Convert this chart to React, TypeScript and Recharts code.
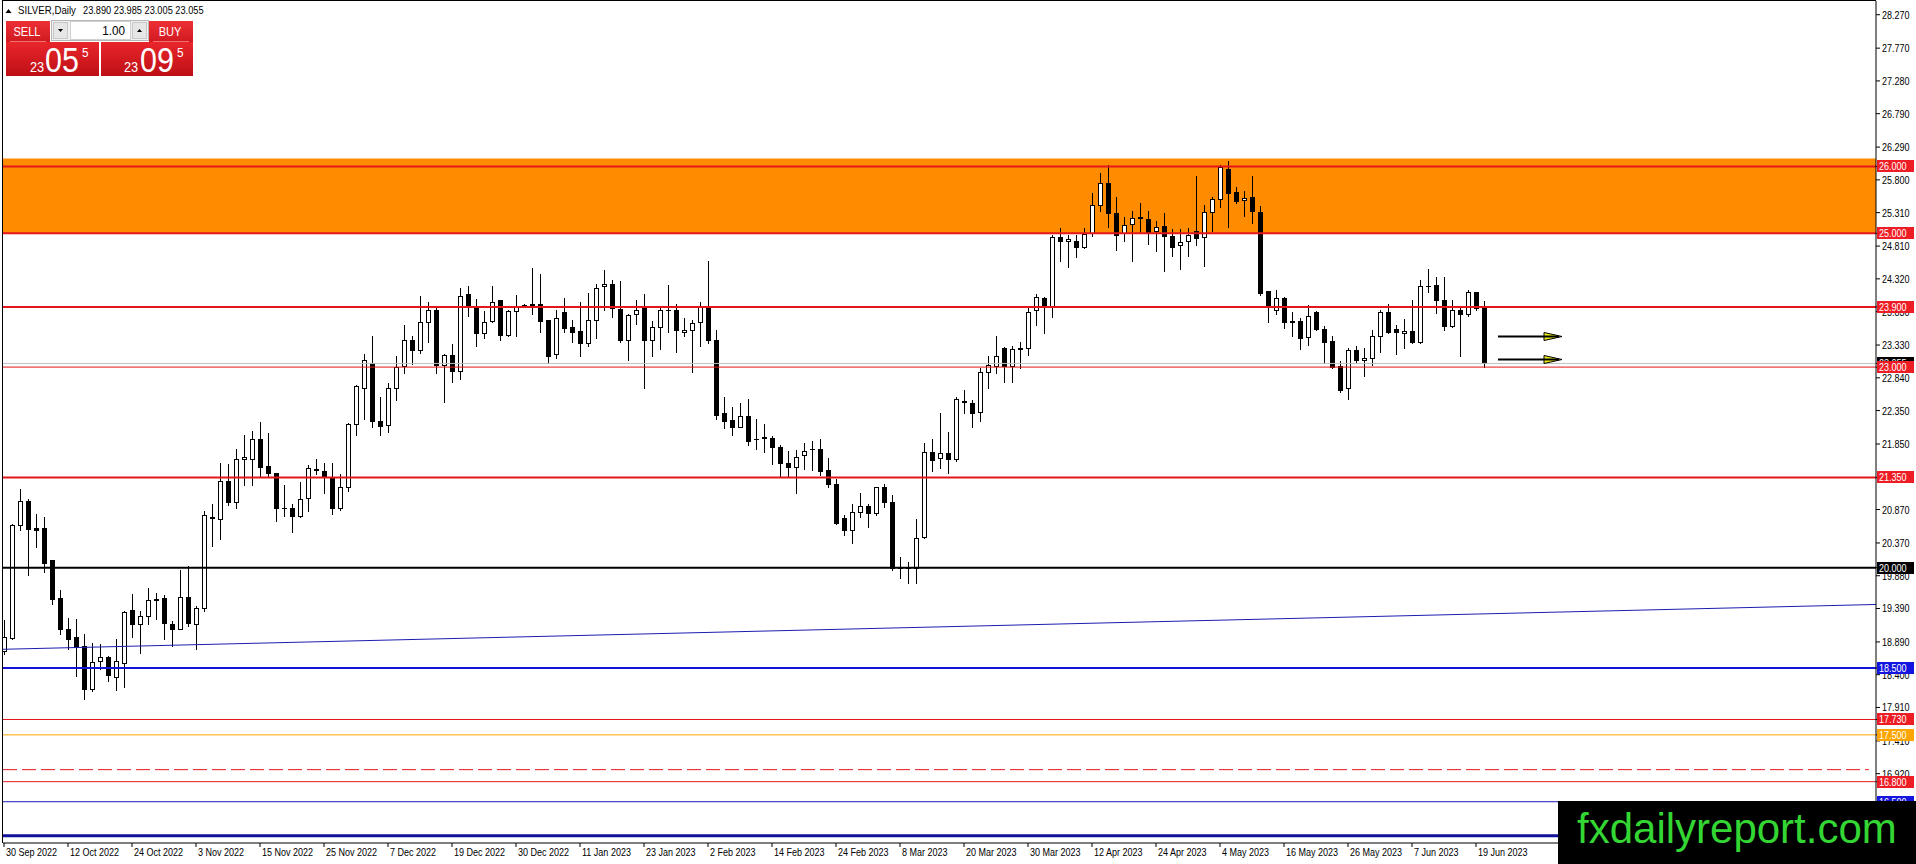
import React from 'react';
import { ComposedChart, Bar, XAxis, YAxis, ReferenceLine, ReferenceArea } from 'recharts';

// ---------------- data ----------------
const dateLabels = ['30 Sep 2022', '12 Oct 2022', '24 Oct 2022', '3 Nov 2022', '15 Nov 2022', '25 Nov 2022', '7 Dec 2022', '19 Dec 2022', '30 Dec 2022', '11 Jan 2023', '23 Jan 2023', '2 Feb 2023', '14 Feb 2023', '24 Feb 2023', '8 Mar 2023', '20 Mar 2023', '30 Mar 2023', '12 Apr 2023', '24 Apr 2023', '4 May 2023', '16 May 2023', '26 May 2023', '7 Jun 2023', '19 Jun 2023'];
const dateTickBars = [0, 8, 16, 24, 32, 40, 48, 56, 64, 72, 80, 88, 96, 104, 112, 120, 128, 136, 144, 152, 160, 168, 176, 184];

const opens = [18.76,18.95,20.64,21.00,20.59,20.59,20.11,19.55,19.08,18.97,
18.83,18.18,18.60,18.67,18.37,18.58,19.37,19.16,19.28,19.53,
19.54,19.16,19.08,19.56,19.16,19.40,20.74,20.73,21.29,20.99,
21.62,21.63,21.92,21.52,21.41,20.90,20.90,20.77,21.04,21.47,
21.45,21.34,20.89,21.20,22.15,22.68,23.06,22.20,22.14,22.68,
23.01,23.41,23.26,23.67,23.86,23.03,23.18,22.94,24.09,23.89,
23.51,23.69,24.00,23.48,23.84,23.92,23.94,23.94,23.70,23.19,
23.82,23.60,23.54,23.36,23.71,24.21,24.24,23.87,23.41,23.79,
23.89,23.41,23.60,23.86,23.86,23.52,23.55,23.67,23.89,23.41,
22.31,22.21,22.10,22.27,21.92,21.95,21.94,21.80,21.56,21.51,
21.68,21.77,21.77,21.46,21.25,20.75,20.56,20.84,20.93,20.82,
21.21,20.98,20.01,20.00,19.99,20.46,21.73,21.64,21.71,21.62,
22.49,22.47,22.33,22.92,23.02,23.28,23.01,23.27,23.28,23.85,
24.04,23.92,24.94,24.88,24.89,24.80,25.00,25.43,25.76,25.30,
25.00,25.14,25.24,25.21,25.04,25.11,24.96,24.83,24.88,25.03,
24.94,25.32,25.51,25.97,25.62,25.50,25.54,25.32,24.14,23.86,
24.04,23.69,23.69,23.45,23.82,23.57,23.39,23.01,22.68,23.25,
23.10,23.13,23.47,23.82,23.57,23.51,23.54,23.37,24.22,24.23,
24.01,23.61,23.86,23.80,24.13,23.89];

const highs = [19.22,20.65,21.17,21.02,20.81,20.76,20.12,19.66,19.25,19.23,
19.01,18.87,18.86,18.68,18.93,19.36,19.60,19.36,19.70,19.62,
19.59,19.20,19.96,20.02,19.43,20.85,20.95,21.56,21.55,21.77,
21.99,22.04,22.18,22.01,21.42,21.23,20.96,21.28,21.54,21.62,
21.56,21.56,21.40,22.16,22.73,23.20,23.47,22.56,22.76,23.16,
23.63,23.47,24.06,23.97,23.88,23.19,23.34,24.18,24.22,24.02,
23.84,24.21,24.01,23.85,24.08,23.95,24.48,24.39,23.71,23.85,
24.03,23.70,23.97,24.11,24.25,24.45,24.31,24.29,23.80,24.01,
24.09,23.69,23.88,24.23,23.95,23.74,23.71,23.97,24.58,23.56,
22.55,22.40,22.47,22.52,22.23,22.15,21.97,21.84,21.74,21.76,
21.86,21.90,21.92,21.64,21.32,20.79,20.95,21.11,20.96,21.21,
21.25,21.09,20.16,20.09,20.73,21.86,21.92,22.31,22.03,22.56,
22.66,22.51,22.98,23.16,23.46,23.30,23.31,23.37,23.88,24.10,
24.05,24.97,25.08,24.97,24.98,25.08,25.61,25.91,26.02,25.54,
25.25,25.33,25.45,25.33,25.18,25.30,25.07,25.06,25.08,25.86,
25.42,25.55,26.02,26.08,25.69,25.63,25.86,25.41,24.14,24.15,
24.05,23.83,23.73,23.93,23.84,23.62,23.46,23.09,23.28,23.32,
23.28,23.56,23.86,23.95,23.63,23.72,24.00,24.30,24.47,24.35,
24.35,24.01,23.88,24.15,24.13,23.985];

const lows = [18.71,18.93,20.56,19.89,20.31,19.93,19.46,19.01,18.78,18.38,
18.03,18.16,18.48,18.30,18.17,18.21,18.96,18.72,19.16,19.23,
18.93,18.83,19.08,19.13,18.78,19.36,20.32,20.43,20.94,20.90,
21.23,21.24,21.36,21.36,20.70,20.78,20.53,20.76,20.85,21.40,
21.11,20.81,20.86,21.14,21.99,22.22,22.11,21.99,22.03,22.51,
22.91,23.04,23.21,23.38,22.91,22.48,22.77,22.82,23.77,23.31,
23.44,23.68,23.41,23.46,23.46,23.90,23.80,23.53,23.06,23.13,
23.52,23.37,23.16,23.31,23.43,23.85,23.75,23.37,23.10,23.65,
22.69,23.16,23.27,23.53,23.23,23.47,22.92,23.31,23.36,22.23,
22.09,21.98,22.10,21.84,21.77,21.73,21.55,21.36,21.36,21.11,
21.48,21.46,21.38,21.21,20.66,20.49,20.37,20.76,20.61,20.79,
20.91,19.96,19.84,19.77,19.77,20.45,21.44,21.49,21.41,21.60,
22.31,22.10,22.20,22.69,22.91,22.78,22.77,22.98,23.18,23.63,
23.51,23.75,24.58,24.50,24.64,24.78,24.96,25.33,25.09,24.75,
24.88,24.58,25.00,24.84,24.73,24.44,24.66,24.46,24.66,24.83,
24.51,25.03,25.39,25.10,25.45,25.26,25.16,24.08,23.68,23.80,
23.58,23.47,23.27,23.33,23.55,23.06,22.98,22.63,22.53,23.07,
22.86,23.03,23.22,23.51,23.20,23.28,23.36,23.36,24.13,23.81,
23.55,23.60,23.16,23.77,23.85,23.005];

const closes = [18.96,20.64,21.00,20.58,20.57,20.07,19.53,19.08,18.94,18.81,
18.19,18.59,18.67,18.39,18.61,19.34,19.16,19.28,19.52,19.52,
19.18,19.08,19.56,19.17,19.40,20.79,20.76,21.29,20.98,21.62,
21.66,21.93,21.51,21.41,20.90,20.89,20.78,21.02,21.49,21.46,
21.36,20.89,21.20,22.15,22.71,23.10,22.20,22.12,22.68,23.00,
23.41,23.26,23.67,23.86,23.03,23.18,22.94,24.07,23.92,23.51,
23.67,23.98,23.48,23.84,23.90,23.93,23.93,23.69,23.17,23.74,
23.59,23.53,23.36,23.70,24.19,24.24,23.88,23.40,23.78,23.86,
23.41,23.60,23.85,23.85,23.55,23.56,23.66,23.90,23.41,22.29,
22.20,22.10,22.27,21.90,21.93,21.94,21.80,21.56,21.51,21.66,
21.75,21.78,21.44,21.25,20.67,20.56,20.83,20.93,20.82,21.20,
20.99,19.99,20.00,19.99,20.45,21.73,21.61,21.71,21.62,22.53,
22.48,22.32,22.93,23.03,23.16,23.01,23.27,23.28,23.83,24.05,
23.90,24.94,24.88,24.91,24.80,24.99,25.43,25.76,25.30,24.98,
25.12,25.23,25.23,25.01,25.09,24.96,24.80,24.87,24.98,24.93,
25.32,25.51,25.99,25.60,25.49,25.53,25.33,24.11,23.91,24.03,
23.68,23.68,23.44,23.77,23.57,23.38,23.00,22.66,23.26,23.10,
23.13,23.47,23.82,23.53,23.52,23.54,23.37,24.21,24.21,24.01,
23.61,23.86,23.80,24.12,23.88,23.055];

// visible price-axis ticks (ticks hidden behind tags / watermark in the reference are left out)
const priceTicks = [28.27, 27.77, 27.28, 26.79, 26.29, 25.8, 25.31, 24.81, 24.32, 23.83, 23.33, 22.84, 22.35, 21.85, 20.87, 20.37, 19.88, 19.39, 18.89, 18.4, 17.91, 17.41, 16.92];

// horizontal levels drawn by the analyst
const zoneBottom = 25.0;
const zoneTop = 26.12;
const redLevels = [26.0, 25.0, 23.9, 21.35];
const supportLevel = 23.0;
const blackLevel = 20.0;
const blueLevel = 18.5;
const thinRedLevels = [17.73, 16.8];
const orangeLevel = 17.5;
const dashedLevel = 16.98;
const thinBlueLevel = 16.5;
const bottomBlueLevel = 15.99;
const trendStartBar = -0.125;
const trendEndBar = 234;
const trendStart = 18.78;
const trendEnd = 19.45;
const arrowPrices = [23.47, 23.12];
const arrowFromBar = 186.75;
const arrowToBar = 194.75;
const spread = 0.04;

const data = opens.map((o, i) => ({
  i,
  open: o,
  high: highs[i],
  low: lows[i],
  close: closes[i],
  range: [lows[i], highs[i]],
}));

const last = data[data.length - 1];
const bid = last.close;
const ask = bid + spread;

// price tags on the right axis, drawn in this order (later ones on top)
const tagLevels = [thinBlueLevel, thinRedLevels[1], orangeLevel, thinRedLevels[0], blueLevel, blackLevel, 21.35, bid, supportLevel, 23.9, 25.0, 26.0];
const tagColor = (v: number) => {
  if (v === thinBlueLevel || v === blueLevel) return '#1515E0';
  if (v === orangeLevel) return '#FFA500';
  if (v === blackLevel || v === bid) return '#000';
  return '#EE1C24';
};

// ---------------- drawing helpers ----------------
const FONT = "'Liberation Sans', Arial, sans-serif";
const RED = '#E3161C';
const SX = 0.82;

const NText = (p: any) => {
  const { x, y, children, size = 11, fill = '#000', anchor = 'start', sx = SX } = p;
  return (
    <text transform={`translate(${x},${y}) scale(${sx},1)`} fontSize={size} fill={fill} fontFamily={FONT} textAnchor={anchor}>
      {children}
    </text>
  );
};

const Candle = (props: any) => {
  const { x, y, width, height, payload } = props;
  if (!payload) return null;
  const { open, close, high, low } = payload;
  const top = Math.min(y, y + height);
  const bottom = Math.max(y, y + height);
  const span = high - low;
  const py = (p: number) => (span > 0 ? top + ((high - p) / span) * (bottom - top) : top);
  const cx = Math.round(x + width / 2);
  const yo = py(open);
  const yc = py(close);
  const bTop = Math.round(Math.min(yo, yc));
  const bBot = Math.round(Math.max(yo, yc));
  const bull = close >= open;
  return (
    <g>
      <line x1={cx + 0.5} x2={cx + 0.5} y1={Math.round(top)} y2={Math.round(bottom) + 1} stroke="#000" strokeWidth={1} />
      {bBot - bTop < 1 ? (
        <line x1={cx - 2} x2={cx + 3} y1={bTop + 0.5} y2={bTop + 0.5} stroke="#000" strokeWidth={1} />
      ) : (
        <rect x={cx - 2 + 0.5} y={bTop + 0.5} width={4} height={bBot - bTop} fill={bull ? '#fff' : '#000'} stroke="#000" strokeWidth={1} />
      )}
    </g>
  );
};

const PriceAxisTick = (props: any) => {
  const { x, y, payload, index } = props;
  const v = payload.value;
  const yy = Math.round(y);
  if (index >= priceTicks.length) {
    const bx = x - 5;
    return (
      <g>
        <rect x={bx} y={yy - 6} width={37} height={12} fill={tagColor(v)} />
        <NText x={bx + 2} y={yy + 4} fill="#fff">{v.toFixed(3)}</NText>
      </g>
    );
  }
  return <NText x={x} y={yy + 4}>{v.toFixed(3)}</NText>;
};

const ArrowShape = (props: any) => {
  const { x1, y1, x2 } = props;
  const y = Math.round(y1) + 0.5;
  return (
    <g>
      <polygon points={`${x2 - 18},${y - 4} ${x2},${y} ${x2 - 18},${y + 4}`} fill="#F2F20F" stroke="#000" strokeWidth={1} />
      <line x1={x1} y1={y} x2={x2 - 3} y2={y} stroke="#000" strokeWidth={2} />
    </g>
  );
};

const DateTick = (props: any) => {
  const { x, y, payload } = props;
  const idx = dateTickBars.indexOf(payload.value);
  return <NText x={x + 2} y={y + 7}>{idx >= 0 ? dateLabels[idx] : ''}</NText>;
};

const splitPrice = (p: number) => {
  const s = p.toFixed(3);
  return { big: s.slice(0, 2), mid: s.slice(3, 5), small: s.slice(5, 6) };
};

const Overlay = () => {
  const b = splitPrice(bid);
  const a = splitPrice(ask);
  const title = `${last.open.toFixed(3)} ${last.high.toFixed(3)} ${last.low.toFixed(3)} ${last.close.toFixed(3)}`;
  return (
    <svg width={1916} height={864} style={{ position: 'absolute', left: 0, top: 0, pointerEvents: 'none' }}>
      <defs>
        <linearGradient id="redBox" x1="0" y1="0" x2="0" y2="1">
          <stop offset="0" stopColor="#E8262B" />
          <stop offset="1" stopColor="#BE0F16" />
        </linearGradient>
        <linearGradient id="redBtn" x1="0" y1="0" x2="0" y2="1">
          <stop offset="0" stopColor="#EE3035" />
          <stop offset="1" stopColor="#D01A20" />
        </linearGradient>
      </defs>
      {/* chart frame */}
      <line x1={2.5} y1={0} x2={2.5} y2={843} stroke="#000" strokeWidth={1} />
      <line x1={2} y1={0.5} x2={1876} y2={0.5} stroke="#000" strokeWidth={1} />
      {/* title */}
      <polygon points="5.5,13 8.5,9 11.5,13" fill="#000" />
      <NText x={18} y={14} sx={0.88}>SILVER,Daily</NText>
      <NText x={83} y={14} sx={0.84}>{title}</NText>
      {/* one click panel */}
      <rect x={6} y={21} width={44} height={21} fill="url(#redBtn)" />
      <NText x={27} y={36} size={13} fill="#fff" anchor="middle" sx={0.85}>SELL</NText>
      <rect x={149} y={21} width={44} height={21} fill="url(#redBtn)" />
      <NText x={170} y={36} size={13} fill="#fff" anchor="middle" sx={0.85}>BUY</NText>
      <rect x={51.5} y={20.5} width={97} height={20} fill="#F0F0F0" stroke="#B8B8B8" />
      <rect x={53.5} y={22.5} width={14} height={16} fill="#E6E6E6" stroke="#C8C8C8" />
      <polygon points="58,29 63,29 60.5,32" fill="#000" />
      <rect x={70.5} y={21.5} width={60} height={18} fill="#fff" stroke="#D0D0D0" />
      <NText x={125} y={35} size={13} anchor="end" sx={0.9}>1.00</NText>
      <rect x={132.5} y={22.5} width={14} height={16} fill="#E6E6E6" stroke="#C8C8C8" />
      <polygon points="137,32 142,32 139.5,29" fill="#000" />
      <line x1={10} y1={41.5} x2={46} y2={41.5} stroke="#F07070" strokeWidth={1} />
      <line x1={153} y1={41.5} x2={189} y2={41.5} stroke="#F07070" strokeWidth={1} />
      <rect x={6} y={42} width={93} height={34} fill="url(#redBox)" />
      <rect x={101} y={42} width={92} height={34} fill="url(#redBox)" />
      <NText x={30} y={72} size={15} fill="#fff" sx={0.85}>{b.big}</NText>
      <NText x={45} y={72} size={35} fill="#fff" sx={0.87}>{b.mid}</NText>
      <NText x={82} y={57} size={13} fill="#fff" sx={0.9}>{b.small}</NText>
      <NText x={124} y={72} size={15} fill="#fff" sx={0.85}>{a.big}</NText>
      <NText x={140} y={72} size={35} fill="#fff" sx={0.87}>{a.mid}</NText>
      <NText x={177} y={57} size={13} fill="#fff" sx={0.9}>{a.small}</NText>
      {/* watermark */}
      <rect x={1558} y={801} width={358} height={63} fill="#000" />
      <text x={1577} y={843} fontSize={42} fontFamily={FONT} fill="#33D633">fxdailyreport.com</text>
    </svg>
  );
};

export default function App() {
  return (
    <div style={{ position: 'absolute', left: 0, top: 0, width: 1916, height: 864, overflow: 'hidden', background: '#fff' }}>
      <ComposedChart width={1916} height={864} data={data} margin={{ top: 1, right: 0, bottom: 0, left: 3 }}>
        <XAxis
          dataKey="i"
          type="number"
          domain={[trendStartBar, trendEndBar]}
          allowDataOverflow
          ticks={dateTickBars}
          interval={0}
          height={21}
          tickSize={4}
          tickLine={{ stroke: '#000' }}
          axisLine={{ stroke: '#000' }}
          tick={<DateTick />}
        />
        <YAxis
          orientation="right"
          type="number"
          domain={[15.883, 28.475]}
          allowDataOverflow
          ticks={[...priceTicks, ...tagLevels]}
          interval={0}
          width={40}
          tickSize={4}
          tickMargin={2}
          tickLine={{ stroke: '#000' }}
          axisLine={{ stroke: '#000' }}
          tick={<PriceAxisTick />}
        />
        <ReferenceArea y1={zoneBottom} y2={zoneTop} fill="#FF8C00" fillOpacity={1} stroke="none" />
        <Bar dataKey="range" barSize={5} shape={<Candle />} isAnimationActive={false} />
        <ReferenceLine
          segment={[{ x: trendStartBar, y: trendStart }, { x: trendEndBar, y: trendEnd }]}
          stroke="#1C1CB0"
          strokeWidth={1}
        />
        <ReferenceLine y={bottomBlueLevel} stroke="#10109A" strokeWidth={3} />
        <ReferenceLine y={thinBlueLevel} stroke="#1A1AB8" strokeWidth={1} />
        <ReferenceLine
          segment={[{ x: trendStartBar, y: dashedLevel }, { x: 233.1, y: dashedLevel }]}
          stroke={RED}
          strokeWidth={1}
          strokeDasharray="14 5"
        />
        <ReferenceLine y={thinRedLevels[1]} stroke={RED} strokeWidth={1} />
        <ReferenceLine y={orangeLevel} stroke="#FFA500" strokeWidth={1} />
        <ReferenceLine y={thinRedLevels[0]} stroke={RED} strokeWidth={1} />
        <ReferenceLine y={blueLevel} stroke="#1414D8" strokeWidth={2} />
        <ReferenceLine y={blackLevel} stroke="#000" strokeWidth={2} />
        <ReferenceLine y={bid} stroke="#C0C0C0" strokeWidth={1} />
        <ReferenceLine y={supportLevel} stroke={RED} strokeWidth={1} />
        {redLevels.map((v) => (
          <ReferenceLine key={v} y={v} stroke={RED} strokeWidth={2} />
        ))}
        {arrowPrices.map((p) => (
          <ReferenceLine
            key={p}
            segment={[{ x: arrowFromBar, y: p }, { x: arrowToBar, y: p }]}
            shape={(props: any) => <ArrowShape {...props} />}
          />
        ))}
      </ComposedChart>
      <Overlay />
    </div>
  );
}
